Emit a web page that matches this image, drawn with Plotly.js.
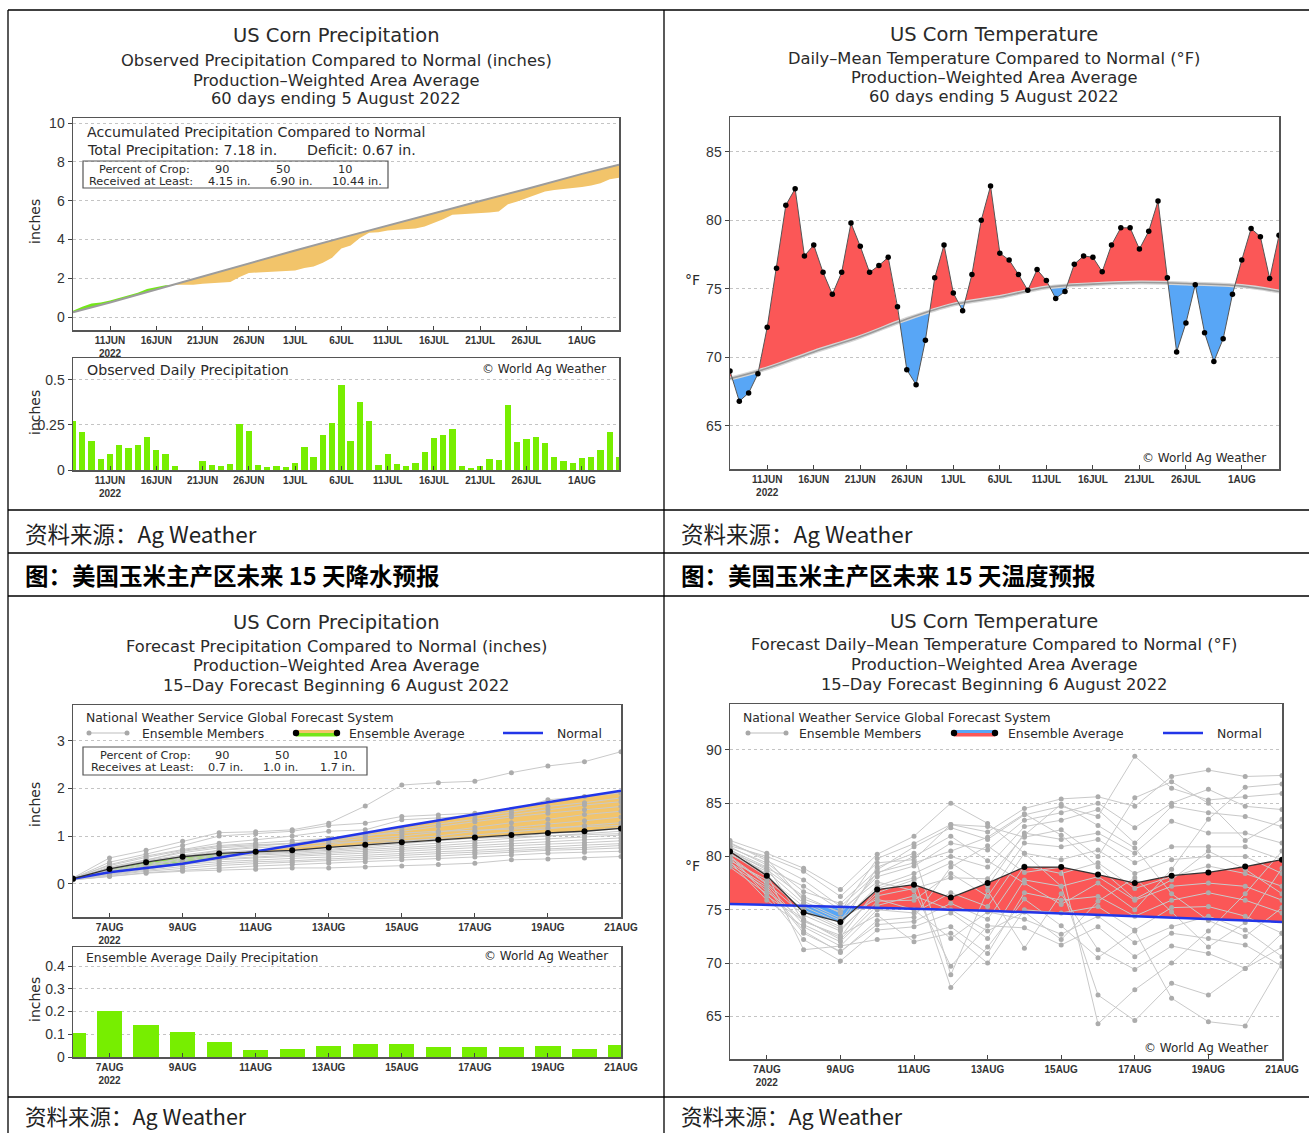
<!DOCTYPE html>
<html>
<head>
<meta charset="utf-8">
<script src="https://cdn.plot.ly/plotly-3.0.1.min.js"></script>
<style>
html,body{margin:0;padding:0;background:#fff;}
#chart{width:1309px;height:1133px;}
</style>
</head>
<body>
<div id="chart"></div>
<script>
// ================= DATA =================
// Observed period: 60 days, 7 Jun – 5 Aug 2022
const obsStartDate = '2022-06-07';
const obsDayCount = 60;
const obsDailyPrecip = [0.27,0.21,0.16,0.06,0.09,0.14,0.12,0.14,0.185,0.11,0.09,0.02,0.0,0.0,0.05,0.03,0.02,0.035,0.255,0.215,0.03,0.015,0.02,0.015,0.04,0.13,0.07,0.195,0.26,0.47,0.16,0.375,0.27,0.03,0.09,0.035,0.02,0.04,0.10,0.18,0.195,0.23,0.025,0.01,0.02,0.06,0.055,0.36,0.155,0.17,0.185,0.15,0.075,0.05,0.04,0.065,0.075,0.11,0.21,0.075];
const obsAccumPrecip = [0.32,0.53,0.69,0.75,0.85,0.99,1.11,1.25,1.44,1.55,1.64,1.66,1.66,1.66,1.71,1.74,1.76,1.80,2.06,2.27,2.30,2.32,2.34,2.36,2.40,2.53,2.60,2.80,3.06,3.53,3.69,4.07,4.34,4.37,4.46,4.50,4.52,4.56,4.66,4.84,5.04,5.27,5.30,5.31,5.33,5.39,5.44,5.81,5.96,6.13,6.32,6.47,6.55,6.60,6.64,6.70,6.78,6.89,7.10,7.18];
const normalPrecipDates = ['2022-06-07','2022-06-11','2022-06-16','2022-06-18','2022-06-21','2022-06-26','2022-07-01','2022-07-06','2022-07-11','2022-07-16','2022-07-21','2022-07-26','2022-08-01','2022-08-05'];
const normalPrecipAccum = [0.25,0.75,1.42,1.69,2.10,2.78,3.43,4.08,4.72,5.35,5.98,6.60,7.38,7.85];

const obsTemp = [69.0,66.8,67.4,68.8,72.2,76.5,81.1,82.3,77.4,78.2,76.2,74.6,76.2,79.8,78.1,76.2,76.7,77.3,73.7,69.1,68.0,71.25,75.8,78.2,74.7,73.4,76.05,80.0,82.5,77.6,77.1,76.05,74.9,76.4,75.6,74.3,74.8,76.8,77.4,77.3,76.25,78.2,79.45,79.45,77.9,79.2,81.4,75.8,70.4,72.5,75.3,71.8,69.7,71.35,74.6,77.1,79.4,78.8,75.75,78.9];
const normalTempDates = ['2022-06-07','2022-06-11','2022-06-16','2022-06-21','2022-06-26','2022-07-01','2022-07-06','2022-07-11','2022-07-16','2022-07-21','2022-07-26','2022-08-01','2022-08-05'];
const normalTemp = [68.45,69.2,70.4,71.5,72.8,73.85,74.4,75.1,75.34,75.46,75.39,75.2,74.8];

const obsTickDates = ['2022-06-11','2022-06-16','2022-06-21','2022-06-26','2022-07-01','2022-07-06','2022-07-11','2022-07-16','2022-07-21','2022-07-26','2022-08-01'];
const obsTickLabels = ['11JUN<br>2022','16JUN','21JUN','26JUN','1JUL','6JUL','11JUL','16JUL','21JUL','26JUL','1AUG'];

// Forecast period: 6 Aug – 21 Aug 2022
const fcstStartDate = '2022-08-06';
const fcstDayCount = 16;
const fcstDailyPrecip = [0.107,0.204,0.14,0.112,0.068,0.032,0.035,0.049,0.057,0.057,0.044,0.046,0.044,0.049,0.037,0.051];
const fcstAccumAvg = [0.105,0.31,0.45,0.565,0.635,0.67,0.70,0.76,0.815,0.87,0.92,0.97,1.02,1.065,1.10,1.16];
const fcstNormalPrecipDates = ['2022-08-06','2022-08-07','2022-08-09','2022-08-11','2022-08-13','2022-08-15','2022-08-17','2022-08-19','2022-08-21'];
const fcstNormalPrecip = [0.105,0.24,0.42,0.67,0.93,1.20,1.46,1.71,1.95];
const fcstPrecipMembers = [
 [0.12,0.54,0.70,0.89,1.07,1.09,1.13,1.27,1.63,2.07,2.12,2.15,2.33,2.47,2.56,2.77],
 [0.11,0.45,0.62,0.80,1.00,1.05,1.10,1.22,1.27,1.41,1.44,1.48,1.55,1.76,1.83,1.90],
 [0.10,0.40,0.58,0.72,0.85,0.92,1.00,1.10,1.13,1.34,1.38,1.42,1.50,1.62,1.70,1.80],
 [0.12,0.38,0.55,0.70,0.80,0.85,0.90,0.95,1.05,1.15,1.25,1.35,1.45,1.55,1.65,1.72],
 [0.09,0.35,0.50,0.65,0.75,0.80,0.85,0.90,1.00,1.10,1.20,1.30,1.40,1.48,1.55,1.62],
 [0.11,0.33,0.48,0.60,0.70,0.75,0.80,0.88,0.95,1.00,1.08,1.18,1.28,1.35,1.45,1.52],
 [0.10,0.30,0.45,0.58,0.66,0.70,0.76,0.82,0.90,0.95,1.00,1.10,1.18,1.25,1.32,1.40],
 [0.10,0.32,0.46,0.55,0.62,0.66,0.70,0.76,0.82,0.88,0.95,1.02,1.08,1.15,1.22,1.28],
 [0.11,0.28,0.42,0.52,0.60,0.64,0.68,0.72,0.78,0.84,0.90,0.96,1.00,1.05,1.10,1.18],
 [0.09,0.27,0.40,0.50,0.58,0.62,0.65,0.70,0.75,0.80,0.85,0.90,0.95,1.00,1.05,1.10],
 [0.10,0.25,0.38,0.48,0.55,0.60,0.63,0.67,0.71,0.75,0.80,0.85,0.90,0.94,0.98,1.02],
 [0.10,0.24,0.36,0.45,0.52,0.56,0.60,0.64,0.68,0.72,0.76,0.80,0.84,0.88,0.92,0.96],
 [0.09,0.22,0.33,0.42,0.50,0.54,0.57,0.60,0.64,0.68,0.72,0.76,0.80,0.83,0.86,0.90],
 [0.10,0.20,0.30,0.40,0.46,0.50,0.53,0.56,0.60,0.63,0.67,0.70,0.74,0.78,0.81,0.84],
 [0.08,0.19,0.28,0.36,0.42,0.46,0.48,0.52,0.56,0.60,0.63,0.66,0.70,0.73,0.76,0.80],
 [0.09,0.17,0.26,0.32,0.38,0.42,0.45,0.48,0.52,0.55,0.58,0.62,0.66,0.70,0.72,0.75],
 [0.08,0.16,0.23,0.28,0.33,0.37,0.40,0.43,0.46,0.50,0.53,0.56,0.60,0.64,0.66,0.68],
 [0.08,0.15,0.22,0.26,0.28,0.30,0.33,0.33,0.35,0.37,0.40,0.43,0.50,0.52,0.54,0.57],
 [0.10,0.22,0.35,0.55,0.70,0.78,0.85,0.95,1.02,1.06,1.10,1.12,1.15,1.18,1.20,1.22],
 [0.11,0.30,0.50,0.68,0.78,0.82,0.84,0.86,0.88,0.90,0.92,0.95,0.98,1.00,1.02,1.05]
];

const fcstTempAvg = [80.47,78.2,74.75,73.85,76.9,77.35,76.15,77.5,79.0,79.0,78.3,77.5,78.2,78.5,79.05,79.7];
const fcstNormalTempDates = ['2022-08-06','2022-08-09','2022-08-13','2022-08-17','2022-08-21'];
const fcstNormalTemp = [75.55,75.3,74.9,74.4,73.85];
const fcstTempMembers = [
 [81.5,80.3,78.9,76.9,80.2,81.9,85.0,83.1,80.3,77.2,67.0,64.6,68.1,67.0,69.5,72.8],
 [81.0,80.0,78.6,76.25,79.4,79.7,83.0,82.3,84.5,85.4,85.6,84.7,87.5,88.1,87.5,87.6],
 [80.8,79.4,76.7,75.6,78.75,80.9,82.7,81.6,83.9,84.7,83.75,89.4,86.4,85.3,85.6,85.9],
 [80.5,78.75,76.25,74.7,78.1,79.1,81.25,80.6,83.4,84.1,85.0,82.7,85.0,86.3,84.7,84.4],
 [80.3,78.1,75.3,73.75,77.2,78.4,80.0,79.0,82.8,83.4,84.4,81.25,84.7,84.1,83.75,82.8],
 [80.0,77.5,74.5,73.0,76.6,77.8,79.4,77.2,82.2,81.6,82.2,80.3,83.3,82.2,82.2,81.25],
 [79.8,76.7,74.1,72.2,75.8,75.9,78.4,76.25,81.25,80.9,81.6,79.4,80.9,80.9,80.9,79.7],
 [79.5,75.9,73.4,71.6,75.0,74.7,76.6,75.3,80.3,79.7,80.6,78.4,79.7,80.0,80.0,78.4],
 [79.2,77.0,72.8,71.1,73.6,73.9,75.6,74.1,79.1,78.4,79.4,77.0,78.1,79.1,78.4,77.2],
 [79.0,76.5,72.2,70.2,73.1,73.4,74.7,72.3,77.8,77.2,78.1,75.9,77.2,77.5,77.2,75.9],
 [80.2,78.4,71.25,71.6,72.2,72.5,73.4,70.9,76.6,75.9,76.25,74.4,75.9,76.6,75.9,74.7],
 [80.6,79.0,73.9,72.6,74.5,72.0,72.8,70.0,75.0,74.7,75.3,73.1,75.2,75.3,74.4,72.8],
 [81.2,79.8,75.8,74.2,76.0,75.0,72.3,74.8,74.1,72.7,74.4,71.9,73.4,74.4,73.1,70.6],
 [80.4,78.9,77.2,75.0,77.6,76.8,69.7,73.5,73.3,71.7,73.4,70.6,72.8,72.3,71.7,69.7],
 [79.6,77.8,75.0,73.4,79.0,80.3,68.9,76.8,71.4,76.5,71.25,69.4,71.6,70.9,69.5,71.5],
 [80.1,76.3,74.0,72.4,77.0,78.0,67.7,71.5,76.0,73.5,70.5,73.0,66.7,64.5,64.1,70.0],
 [79.4,77.2,73.0,71.0,74.0,74.3,79.0,81.0,78.5,79.0,64.3,67.5,70.0,73.0,76.5,80.5],
 [80.9,79.2,76.0,74.8,79.8,81.2,83.0,82.8,81.8,82.5,80.0,85.5,87.0,85.0,81.5,83.5],
 [81.3,79.6,77.8,75.3,78.4,80.0,81.9,79.6,77.5,75.5,77.5,75.0,78.8,83.5,86.5,86.8],
 [80.7,78.3,74.8,73.2,76.3,77.0,78.0,77.9,82.0,84.9,82.9,80.8,76.5,74.0,72.5,75.2],
 [79.9,77.4,73.6,72.0,75.4,76.3,75.0,73.0,74.8,72.2,75.8,78.0,74.8,71.5,73.8,78.9],
 [80.2,78.6,75.6,74.0,78.5,79.4,80.5,81.8,84.0,82.0,79.0,76.0,77.8,80.5,78.8,76.5]
];
const fcstTickDates = ['2022-08-07','2022-08-09','2022-08-11','2022-08-13','2022-08-15','2022-08-17','2022-08-19','2022-08-21'];
const fcstTickLabels = ['7AUG<br>2022','9AUG','11AUG','13AUG','15AUG','17AUG','19AUG','21AUG'];

// ================= HELPERS =================
const W = 1309, H = 1133, DAY = 86400000;
const GR = 'DejaVu Sans, Liberation Sans, sans-serif';
const TICKX = 'Liberation Sans Narrow, Liberation Sans, Arial, sans-serif';
const TICKY = 'Liberation Sans, Arial, sans-serif';
const CJK = 'Noto Sans CJK SC, Noto Sans, sans-serif';
const C_GREEN = '#74e61a', C_ORANGE = '#f2c46a', C_BAR = '#77ee00';
const C_RED = '#fb5757', C_BLUE = '#58a6f6', C_NORMBLUE = '#2236e8';

const toMs = d => Date.parse(d + 'T00:00:00Z');
function dateList(start, n) {
  const t0 = toMs(start), out = [];
  for (let i = 0; i < n; i++) out.push(new Date(t0 + i * DAY).toISOString().slice(0, 10));
  return out;
}
function interp(xs, ys, x) {
  if (x <= xs[0]) return ys[0];
  const n = xs.length;
  if (x >= xs[n - 1]) return ys[n - 1];
  for (let i = 0; i < n - 1; i++) {
    if (x <= xs[i + 1]) { const t = (x - xs[i]) / (xs[i + 1] - xs[i]); return ys[i] + t * (ys[i + 1] - ys[i]); }
  }
  return ys[n - 1];
}
// area between a series and its normal: one colour above, one below
function splitFill(dx, dy, nx, ny, posColor, negColor, xa, ya) {
  const dms = dx.map(toMs), nms = nx.map(toMs);
  const all = Array.from(new Set(dms.concat(nms))).sort((a, b) => a - b);
  const pts = all.map(x => ({x, a: interp(dms, dy, x), b: interp(nms, ny, x)}));
  const seq = [];
  pts.forEach((q, i) => {
    if (i > 0) {
      const p = pts[i - 1], dp = p.a - p.b, dq = q.a - q.b;
      if (dp * dq < 0) { const t = dp / (dp - dq); const v = p.b + t * (q.b - p.b); seq.push({x: p.x + t * (q.x - p.x), a: v, b: v}); }
    }
    seq.push(q);
  });
  const rev = seq.slice().reverse();
  const mk = (fn, col) => ({
    type: 'scatter', mode: 'lines', xaxis: xa, yaxis: ya, hoverinfo: 'skip',
    x: seq.map(s => s.x).concat(rev.map(s => s.x)),
    y: seq.map(fn).concat(rev.map(s => s.b)),
    fill: 'toself', fillcolor: col, line: {width: 0, color: col}
  });
  return [mk(s => Math.max(s.a, s.b), posColor), mk(s => Math.min(s.a, s.b), negColor)];
}

const obsDates = dateList(obsStartDate, obsDayCount);
const fcstDates = dateList(fcstStartDate, fcstDayCount);

// ================= TRACES =================
const traces = [];
// Panel 1 top: accumulated precipitation
traces.push(...splitFill(obsDates, obsAccumPrecip, normalPrecipDates, normalPrecipAccum, C_GREEN, C_ORANGE, 'x', 'y'));
traces.push({type:'scatter', mode:'lines', x: normalPrecipDates, y: normalPrecipAccum, xaxis:'x', yaxis:'y',
  line:{color:'#9c9c9c', width:2}, hoverinfo:'skip'});
// Panel 1 bottom: daily precipitation
traces.push({type:'bar', x: obsDates, y: obsDailyPrecip, xaxis:'x2', yaxis:'y2', width: DAY * 0.68,
  marker:{color: C_BAR, line:{width:0}}, hoverinfo:'skip'});
// Panel 2: observed temperature
traces.push(...splitFill(obsDates, obsTemp, normalTempDates, normalTemp, C_RED, C_BLUE, 'x3', 'y3'));
traces.push({type:'scatter', mode:'lines', x: normalTempDates, y: normalTemp, xaxis:'x3', yaxis:'y3',
  line:{color:'#d6d6d6', width:4, shape:'spline'}, hoverinfo:'skip'});
traces.push({type:'scatter', mode:'lines', x: normalTempDates, y: normalTemp, xaxis:'x3', yaxis:'y3',
  line:{color:'#9a9a9a', width:1.6, shape:'spline'}, hoverinfo:'skip'});
traces.push({type:'scatter', mode:'lines+markers', x: obsDates, y: obsTemp, xaxis:'x3', yaxis:'y3',
  line:{color:'#555', width:1}, marker:{color:'#000', size:5.5}, hoverinfo:'skip'});
// Panel 3 top: forecast accumulated precipitation
traces.push(...splitFill(fcstDates, fcstAccumAvg, fcstNormalPrecipDates, fcstNormalPrecip, C_GREEN, C_ORANGE, 'x4', 'y4'));
fcstPrecipMembers.forEach(m => traces.push({type:'scatter', mode:'lines+markers', x: fcstDates, y: m, xaxis:'x4', yaxis:'y4',
  line:{color:'#c9c9c9', width:1}, marker:{color:'#acacac', size:5}, hoverinfo:'skip'}));
traces.push({type:'scatter', mode:'lines', x: fcstNormalPrecipDates, y: fcstNormalPrecip, xaxis:'x4', yaxis:'y4',
  line:{color: C_NORMBLUE, width:2.5}, hoverinfo:'skip'});
traces.push({type:'scatter', mode:'lines+markers', x: fcstDates, y: fcstAccumAvg, xaxis:'x4', yaxis:'y4',
  line:{color:'#333', width:1.3}, marker:{color:'#000', size:6}, hoverinfo:'skip'});
// Panel 3 bottom: forecast daily precipitation
traces.push({type:'bar', x: fcstDates, y: fcstDailyPrecip, xaxis:'x5', yaxis:'y5', width: DAY * 0.69,
  marker:{color: C_BAR, line:{width:0}}, hoverinfo:'skip'});
// Panel 4: forecast temperature
traces.push(...splitFill(fcstDates, fcstTempAvg, fcstNormalTempDates, fcstNormalTemp, C_RED, C_BLUE, 'x6', 'y6'));
fcstTempMembers.forEach(m => traces.push({type:'scatter', mode:'lines+markers', x: fcstDates, y: m, xaxis:'x6', yaxis:'y6',
  line:{color:'#c9c9c9', width:1}, marker:{color:'#acacac', size:5}, hoverinfo:'skip'}));
traces.push({type:'scatter', mode:'lines', x: fcstNormalTempDates, y: fcstNormalTemp, xaxis:'x6', yaxis:'y6',
  line:{color: C_NORMBLUE, width:2.5}, hoverinfo:'skip'});
traces.push({type:'scatter', mode:'lines+markers', x: fcstDates, y: fcstTempAvg, xaxis:'x6', yaxis:'y6',
  line:{color:'#333', width:1.3}, marker:{color:'#000', size:6}, hoverinfo:'skip'});

// ================= AXES =================
function xDate(l, r, range, tv, tt, anchor) {
  return {domain:[l / W, r / W], anchor, type:'date', range, tickvals: tv, ticktext: tt,
    ticks:'inside', ticklen:4, tickwidth:1, tickcolor:'#444',
    tickfont:{family: TICKX, size:10, color:'#333', weight:'bold'},
    showline:true, mirror:true, linecolor:'#555', linewidth:1.5, showgrid:false, zeroline:false, fixedrange:true};
}
function yLin(top, bot, range, tv, tt, anchor) {
  return {domain:[1 - bot / H, 1 - top / H], anchor, range, tickvals: tv, ticktext: tt,
    ticks:'outside', ticklen:4, tickwidth:1, tickcolor:'#444',
    tickfont:{family: TICKY, size:14, color:'#333'},
    showline:true, mirror:true, linecolor:'#555', linewidth:1.5,
    showgrid:true, gridcolor:'#c4c4c4', griddash:'dot', gridwidth:1, zeroline:false, fixedrange:true};
}
const obsRange = ['2022-06-07', '2022-08-05'];
const fcstRange = ['2022-08-06', '2022-08-21'];

// ================= TEXT & SHAPES =================
const ann = [];
function T(text, x, y, size, o) {
  o = o || {};
  ann.push({xref:'paper', yref:'paper', x: x / W, y: 1 - y / H, text, showarrow:false,
    xanchor: o.anchor || 'left', yanchor:'middle', textangle: o.angle || 0,
    font:{family: o.family || GR, size, color: o.color || '#2a2a2a', weight: o.weight || 'normal'}});
}
const shapes = [];
function L(x0, y0, x1, y1, color, width) {
  shapes.push({type:'line', xref:'paper', yref:'paper', x0: x0 / W, y0: 1 - y0 / H, x1: x1 / W, y1: 1 - y1 / H,
    line:{color, width}, layer:'above'});
}
function R(x0, y0, x1, y1, fill, lineColor, lw) {
  shapes.push({type:'rect', xref:'paper', yref:'paper', x0: x0 / W, y0: 1 - y1 / H, x1: x1 / W, y1: 1 - y0 / H,
    fillcolor: fill, line:{color: lineColor || fill, width: lw || 0}, layer:'above'});
}
function Cir(cx, cy, r, color) {
  shapes.push({type:'circle', xref:'paper', yref:'paper', x0: (cx - r) / W, x1: (cx + r) / W, y0: 1 - (cy + r) / H, y1: 1 - (cy - r) / H,
    fillcolor: color, line:{width:0}, layer:'above'});
}
const TS = 19.5, SS = 16.3, IS = 14.2, LS = 12.4, BS = 11.3, CS = 12;

// Table frame
L(8, 10, 1309, 10, '#000', 1.3);
L(8, 10, 8, 1133, '#000', 1.3);
L(664, 10, 664, 1133, '#000', 1.3);
[510, 553, 596, 1097].forEach(y => L(8, y, 1309, y, '#000', 1.3));
T('资料来源：Ag Weather', 23, 533, 22.5, {family: CJK, color:'#222'});
T('资料来源：Ag Weather', 679, 533, 22.5, {family: CJK, color:'#222'});
T('图：美国玉米主产区未来 15 天降水预报', 23, 575, 23.5, {family: CJK, color:'#000', weight:'bold'});
T('图：美国玉米主产区未来 15 天温度预报', 679, 575, 23.5, {family: CJK, color:'#000', weight:'bold'});
T('资料来源：Ag Weather', 23, 1115, 21.5, {family: CJK, color:'#222'});
T('资料来源：Ag Weather', 679, 1115, 21.5, {family: CJK, color:'#222'});

// Panel 1 titles
T('US Corn Precipitation', 336, 36, TS, {anchor:'center'});
T('Observed Precipitation Compared to Normal (inches)', 336, 60, SS, {anchor:'center'});
T('Production–Weighted Area Average', 336, 80, SS, {anchor:'center'});
T('60 days ending 5 August 2022', 336, 99, SS, {anchor:'center'});
T('Accumulated Precipitation Compared to Normal', 85, 132, IS);
T('Total Precipitation: 7.18 in.', 85, 150, IS);
T('Deficit: 0.67 in.', 305, 150, IS);
R(83, 161, 388, 188, 'rgba(255,255,255,0)', '#555', 1.2);
T('Percent of Crop:', 97, 169, BS); T('90', 213, 169, BS); T('50', 274, 169, BS); T('10', 336, 169, BS);
T('Received at Least:', 87, 181, BS); T('4.15 in.', 206, 181, BS); T('6.90 in.', 268, 181, BS); T('10.44 in.', 330, 181, BS);
T('inches', 35, 222, 14, {anchor:'center', angle:-90});
T('Observed Daily Precipitation', 85, 370, IS);
T('© World Ag Weather', 608, 369, CS, {anchor:'right'});
T('inches', 35, 413, 14, {anchor:'center', angle:-90});

// Panel 2 titles
T('US Corn Temperature', 994, 35, TS, {anchor:'center'});
T('Daily–Mean Temperature Compared to Normal (°F)', 994, 58, SS, {anchor:'center'});
T('Production–Weighted Area Average', 994, 78, SS, {anchor:'center'});
T('60 days ending 5 August 2022', 994, 97, SS, {anchor:'center'});
T('°F', 692, 280, 14, {anchor:'center'});
T('© World Ag Weather', 1268, 458, CS, {anchor:'right'});

// Panel 3 titles
T('US Corn Precipitation', 336, 622, TS, {anchor:'center'});
T('Forecast Precipitation Compared to Normal (inches)', 336, 646, SS, {anchor:'center'});
T('Production–Weighted Area Average', 336, 665, SS, {anchor:'center'});
T('15–Day Forecast Beginning 6 August 2022', 336, 685, SS, {anchor:'center'});
T('National Weather Service Global Forecast System', 84, 717, LS);
L(88, 733, 128, 733, '#bdbdbd', 1); Cir(89, 733, 2.5, '#a8a8a8'); Cir(127, 733, 2.5, '#a8a8a8');
T('Ensemble Members', 140, 733, LS);
R(296, 730, 337, 733, C_ORANGE); R(296, 733, 337, 736.5, C_GREEN);
Cir(296, 733, 3.2, '#000'); Cir(337, 733, 3.2, '#000');
T('Ensemble Average', 347, 733, LS);
L(503, 733, 543, 733, C_NORMBLUE, 2.5);
T('Normal', 555, 733, LS);
R(83, 747, 367, 775, 'rgba(255,255,255,0)', '#555', 1.2);
T('Percent of Crop:', 98, 755, BS); T('90', 213, 755, BS); T('50', 273, 755, BS); T('10', 331, 755, BS);
T('Receives at Least:', 89, 767, BS); T('0.7 in.', 206, 767, BS); T('1.0 in.', 261, 767, BS); T('1.7 in.', 318, 767, BS);
T('inches', 35, 805, 14, {anchor:'center', angle:-90});
T('Ensemble Average Daily Precipitation', 84, 957, LS);
T('© World Ag Weather', 610, 956, CS, {anchor:'right'});
T('inches', 35, 1000, 14, {anchor:'center', angle:-90});

// Panel 4 titles
T('US Corn Temperature', 994, 621, TS, {anchor:'center'});
T('Forecast Daily–Mean Temperature Compared to Normal (°F)', 994, 644, SS, {anchor:'center'});
T('Production–Weighted Area Average', 994, 664, SS, {anchor:'center'});
T('15–Day Forecast Beginning 6 August 2022', 994, 684, SS, {anchor:'center'});
T('National Weather Service Global Forecast System', 741, 717, LS);
L(747, 733, 787, 733, '#bdbdbd', 1); Cir(748, 733, 2.5, '#a8a8a8'); Cir(786, 733, 2.5, '#a8a8a8');
T('Ensemble Members', 797, 733, LS);
R(954, 730, 995, 733, C_BLUE); R(954, 733, 995, 736.5, C_RED);
Cir(954, 733, 3.2, '#000'); Cir(995, 733, 3.2, '#000');
T('Ensemble Average', 1006, 733, LS);
L(1163, 733, 1203, 733, C_NORMBLUE, 2.5);
T('Normal', 1215, 733, LS);
T('°F', 692, 866, 14, {anchor:'center'});
T('© World Ag Weather', 1270, 1048, CS, {anchor:'right'});

// ================= LAYOUT =================
const layout = {
  width: W, height: H, margin:{l:0, r:0, t:0, b:0}, paper_bgcolor:'#fff', plot_bgcolor:'#fff',
  showlegend:false, bargap:0, hovermode:false,
  xaxis:  xDate(73, 619, obsRange, obsTickDates, obsTickLabels, 'y'),
  yaxis:  yLin(118, 330, [-0.67, 10.26], [0,2,4,6,8,10], ['0','2','4','6','8','10'], 'x'),
  xaxis2: xDate(73, 619, obsRange, obsTickDates, obsTickLabels, 'y2'),
  yaxis2: yLin(358, 470, [0, 0.622], [0, 0.25, 0.5], ['0','0.25','0.5'], 'x2'),
  xaxis3: xDate(730, 1279, obsRange, obsTickDates, obsTickLabels, 'y3'),
  yaxis3: yLin(117, 469, [61.86, 87.53], [65,70,75,80,85], ['65','70','75','80','85'], 'x3'),
  xaxis4: xDate(73, 621, fcstRange, fcstTickDates, fcstTickLabels, 'y4'),
  yaxis4: yLin(705, 917, [-0.70, 3.75], [0,1,2,3], ['0','1','2','3'], 'x4'),
  xaxis5: xDate(73, 621, fcstRange, fcstTickDates, fcstTickLabels, 'y5'),
  yaxis5: yLin(947, 1057, [0, 0.4835], [0,0.1,0.2,0.3,0.4], ['0','0.1','0.2','0.3','0.4'], 'x5'),
  xaxis6: xDate(730, 1282, fcstRange, fcstTickDates, fcstTickLabels, 'y6'),
  yaxis6: yLin(704, 1059, [61.0, 94.3], [65,70,75,80,85,90], ['65','70','75','80','85','90'], 'x6'),
  annotations: ann, shapes: shapes
};
Plotly.newPlot('chart', traces, layout, {displayModeBar:false, staticPlot:true});
</script>
</body>
</html>
